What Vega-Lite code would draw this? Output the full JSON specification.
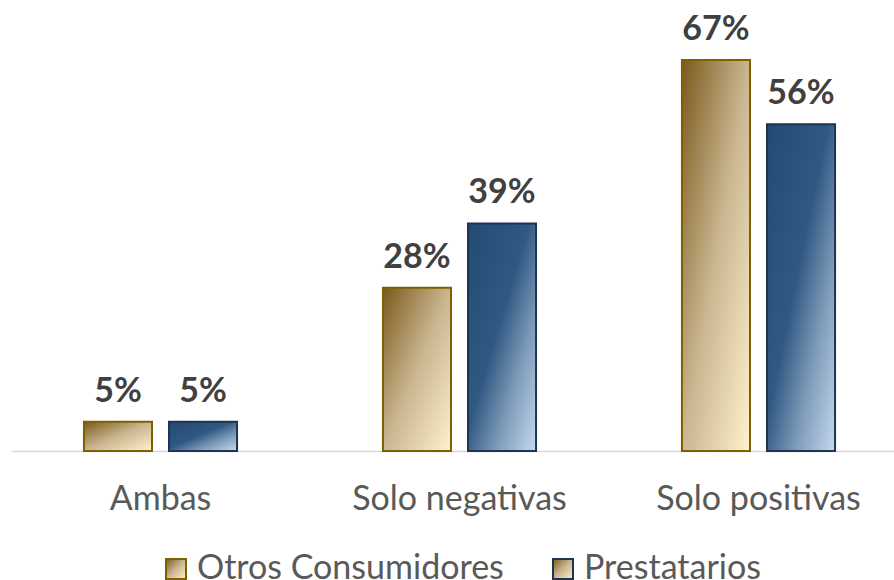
{
  "$schema": "https://vega.github.io/schema/vega-lite/v6.json",
  "width": 897,
  "height": 451,
  "autosize": {"type": "none"},
  "padding": {"left": 11, "top": 0, "right": 0, "bottom": 129},
  "background": "white",
  "config": {"view": {"stroke": null}, "font": "Lato"},
  "data": {
    "values": [
      {"category": "Ambas", "series": "Otros Consumidores", "value": 0.05},
      {"category": "Ambas", "series": "Prestatarios", "value": 0.05},
      {"category": "Solo negativas", "series": "Otros Consumidores", "value": 0.28},
      {"category": "Solo negativas", "series": "Prestatarios", "value": 0.39},
      {"category": "Solo positivas", "series": "Otros Consumidores", "value": 0.67},
      {"category": "Solo positivas", "series": "Prestatarios", "value": 0.56}
    ]
  },
  "encoding": {
    "x": {
      "field": "category", "type": "nominal", "sort": null,
      "scale": {"paddingInner": 0.488, "paddingOuter": 0.244},
      "axis": {"title": null, "labelAngle": 0, "labelFont": "Lato", "labelFontSize": 34, "labelColor": "#595959", "labelLimit": 0, "ticks": false, "domainColor": "#d9d9d9", "domainWidth": 1.5, "labelPadding": 31, "grid": false}
    },
    "xOffset": {"field": "series", "type": "nominal", "sort": null, "scale": {"domain": ["Otros Consumidores", "Prestatarios"], "paddingInner": 0.2, "paddingOuter": 0}},
    "y": {"field": "value", "type": "quantitative", "scale": {"domain": [0, 0.773]}, "axis": null}
  },
  "layer": [
    {
      "transform": [{"filter": "datum.series === 'Otros Consumidores'"}],
      "mark": {"type": "bar", "strokeWidth": 2,
        "fill": {"gradient": "linear", "x1": 0, "y1": 0, "x2": 1, "y2": 1, "stops": [
          {"offset": 0, "color": "#7a5a1a"},
          {"offset": 0.25, "color": "#a28857"},
          {"offset": 0.5, "color": "#cab690"},
          {"offset": 1, "color": "#fff2cd"}
        ]}},
      "encoding": {
        "stroke": {
          "field": "series", "type": "nominal", "sort": null,
          "scale": {"domain": ["Otros Consumidores", "Prestatarios"], "range": ["#7f6000", "#1f3352"]},
          "legend": {"title": null, "orient": "none", "legendX": 148, "legendY": 552, "direction": "horizontal", "symbolType": "square", "symbolSize": 400, "symbolStrokeWidth": 2, "labelFont": "Lato", "labelFontSize": 34, "labelColor": "#595959", "labelLimit": 0, "labelOffset": 4, "columnPadding": 42, "padding": 0,
            "encode": {"symbols": {
              "opacity": {"value": 1},
              "fill": {
                "condition": {"test": "datum.index === 1 || datum.value === 'Prestatarios' || datum.label === 'Prestatarios'", "value": {"gradient": "linear", "x1": 0, "y1": 0, "x2": 1, "y2": 1, "stops": [
                  {"offset": 0, "color": "#234a74"},
                  {"offset": 0.45, "color": "#2f5882"},
                  {"offset": 0.7, "color": "#7d9ab8"},
                  {"offset": 1, "color": "#c5d9ee"}
                ]}},
                "value": {"gradient": "linear", "x1": 0, "y1": 0, "x2": 1, "y2": 1, "stops": [
                  {"offset": 0, "color": "#7a5a1a"},
                  {"offset": 0.25, "color": "#a28857"},
                  {"offset": 0.5, "color": "#cab690"},
                  {"offset": 1, "color": "#fff2cd"}
                ]}
              }
            }}
          }
        }
      }
    },
    {
      "transform": [{"filter": "datum.series === 'Prestatarios'"}],
      "mark": {"type": "bar", "strokeWidth": 2,
        "fill": {"gradient": "linear", "x1": 0, "y1": 0, "x2": 1, "y2": 1, "stops": [
          {"offset": 0, "color": "#234a74"},
          {"offset": 0.45, "color": "#2f5882"},
          {"offset": 0.7, "color": "#7d9ab8"},
          {"offset": 1, "color": "#c5d9ee"}
        ]}},
      "encoding": {
        "stroke": {
          "field": "series", "type": "nominal", "sort": null,
          "scale": {"domain": ["Otros Consumidores", "Prestatarios"], "range": ["#7f6000", "#1f3352"]},
          "legend": {"title": null, "orient": "none", "legendX": 148, "legendY": 552, "direction": "horizontal", "symbolType": "square", "symbolSize": 400, "symbolStrokeWidth": 2, "labelFont": "Lato", "labelFontSize": 34, "labelColor": "#595959", "labelLimit": 0, "labelOffset": 4, "columnPadding": 42, "padding": 0,
            "encode": {"symbols": {
              "opacity": {"value": 1},
              "fill": {
                "condition": {"test": "datum.index === 1 || datum.value === 'Prestatarios' || datum.label === 'Prestatarios'", "value": {"gradient": "linear", "x1": 0, "y1": 0, "x2": 1, "y2": 1, "stops": [
                  {"offset": 0, "color": "#234a74"},
                  {"offset": 0.45, "color": "#2f5882"},
                  {"offset": 0.7, "color": "#7d9ab8"},
                  {"offset": 1, "color": "#c5d9ee"}
                ]}},
                "value": {"gradient": "linear", "x1": 0, "y1": 0, "x2": 1, "y2": 1, "stops": [
                  {"offset": 0, "color": "#7a5a1a"},
                  {"offset": 0.25, "color": "#a28857"},
                  {"offset": 0.5, "color": "#cab690"},
                  {"offset": 1, "color": "#fff2cd"}
                ]}
              }
            }}
          }
        }
      }
    },
    {
      "mark": {"type": "text", "baseline": "alphabetic", "dy": -20, "fontWeight": "bold", "fontSize": 34, "font": "Lato", "color": "#404040"},
      "encoding": {"text": {"field": "value", "type": "quantitative", "format": ".0%"}}
    }
  ]
}
